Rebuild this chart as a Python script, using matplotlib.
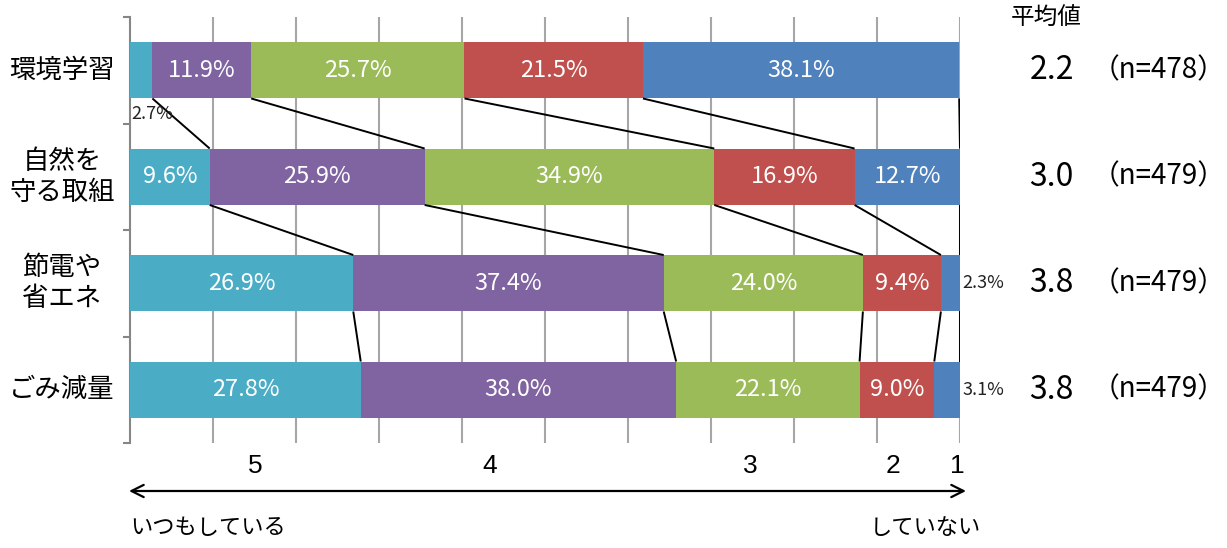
import matplotlib
matplotlib.use("Agg")
import matplotlib.pyplot as plt
import matplotlib.transforms as mtransforms

# ─── Data ─────────────────────────────────────────────────────────────────────
CATEGORIES = ["環境学習", "自然を\n守る取組", "節電や\n省エネ", "ごみ減量"]
LEVEL_5 = [2.7, 9.6, 26.9, 27.8]
LEVEL_4 = [11.9, 25.9, 37.4, 38.0]
LEVEL_3 = [25.7, 34.9, 24.0, 22.1]
LEVEL_2 = [21.5, 16.9, 9.4, 9.0]
LEVEL_1 = [38.1, 12.7, 2.3, 3.1]
MEANS = ["2.2", "3.0", "3.8", "3.8"]
COUNTS = [478, 479, 479, 479]
SCALE_LABELS = ["5", "4", "3", "2", "1"]

COLORS = ["#4BACC6", "#8064A2", "#9BBB59", "#C0504D", "#4F81BD"]

NUM_FONT = ["Noto Sans CJK JP", "DejaVu Sans"]
JP_FONT = ["Noto Sans CJK JP", "DejaVu Sans"]

plt.rcParams["font.family"] = JP_FONT

fig = plt.figure(figsize=(12.27, 5.48), dpi=100)
ax = fig.add_axes([130 / 1227, 1 - 443 / 548, 830 / 1227, 426 / 548])

series = [LEVEL_5, LEVEL_4, LEVEL_3, LEVEL_2, LEVEL_1]
n_rows = len(CATEGORIES)
ys = list(range(n_rows))
bar_h = 0.53

# stacked bars
lefts = [0.0] * n_rows
bounds = [[0.0] for _ in range(n_rows)]
for k, vals in enumerate(series):
    ax.barh(ys, vals, left=lefts, height=bar_h, color=COLORS[k],
            edgecolor="none", zorder=3)
    for i, v in enumerate(vals):
        cx = lefts[i] + v / 2
        if v >= 5:
            ax.text(cx, ys[i], f"{v:.1f}%", ha="center", va="center",
                    color="white", fontsize=17, family=NUM_FONT, zorder=5)
        elif k == 0:
            ax.text(0.2, ys[i] + bar_h / 2 + 0.15, f"{v:.1f}%", ha="left",
                    va="center", color="#222222", fontsize=13,
                    family=NUM_FONT, zorder=5)
        else:
            ax.text(100.3, ys[i], f"{v:.1f}%", ha="left", va="center",
                    color="#222222", fontsize=13, family=NUM_FONT,
                    zorder=5, clip_on=False)
        lefts[i] += v
        bounds[i].append(lefts[i])

# connector lines between bars
for i in range(n_rows - 1):
    for k in range(1, len(series) + 1):
        ax.plot([bounds[i][k], bounds[i + 1][k]],
                [ys[i] + bar_h / 2, ys[i + 1] - bar_h / 2],
                color="black", lw=1.4, zorder=4, solid_capstyle="butt")

# axes styling
ax.set_xlim(0, 100)
ax.set_ylim(n_rows - 0.5, -0.5)
for x in range(10, 101, 10):
    ax.axvline(x, color="#A6A6A6", lw=1.5, zorder=1)
for s in ["top", "right", "bottom"]:
    ax.spines[s].set_visible(False)
ax.spines["left"].set_color("#868686")
ax.spines["left"].set_linewidth(1.5)
ax.set_xticks([])
ax.set_yticks([y - 0.5 for y in range(n_rows + 1)])
ax.set_yticklabels([])
ax.tick_params(axis="y", length=5, width=1.5, color="#868686")

# category labels & means
trans_l = mtransforms.blended_transform_factory(fig.transFigure, ax.transData)
for i, cat in enumerate(CATEGORIES):
    fig.text(0.0505, ys[i], cat, transform=trans_l, ha="center", va="center",
             fontsize=19, linespacing=1.2, multialignment="center")
    fig.text(0.857, ys[i], MEANS[i], transform=trans_l, ha="center",
             va="center", fontsize=23, family=NUM_FONT)
    fig.text(0.944, ys[i], f"（n={COUNTS[i]}）", transform=trans_l,
             ha="center", va="center", fontsize=20)

fig.text(0.853, 0.967, "平均値", ha="center", va="center", fontsize=17)

# scale numbers below
for lab, fx in zip(SCALE_LABELS, [255, 490, 750, 893, 957]):
    fig.text(fx / 1227, 1 - 466 / 548, lab, ha="center", va="center",
             fontsize=19, family=["Liberation Sans", "DejaVu Sans"])

ax.annotate("", xy=(966 / 1227, 1 - 491 / 548),
            xytext=(129 / 1227, 1 - 491 / 548),
            xycoords="figure fraction",
            arrowprops=dict(arrowstyle="<->", lw=1.6, color="black",
                            mutation_scale=22, shrinkA=0, shrinkB=0))

fig.text(130 / 1227, 1 - 527 / 548, "いつもしている", ha="left",
         va="center", fontsize=16)
fig.text(981 / 1227, 1 - 527 / 548, "していない", ha="right",
         va="center", fontsize=16)

fig.savefig("out.png", dpi=100, facecolor="white")
